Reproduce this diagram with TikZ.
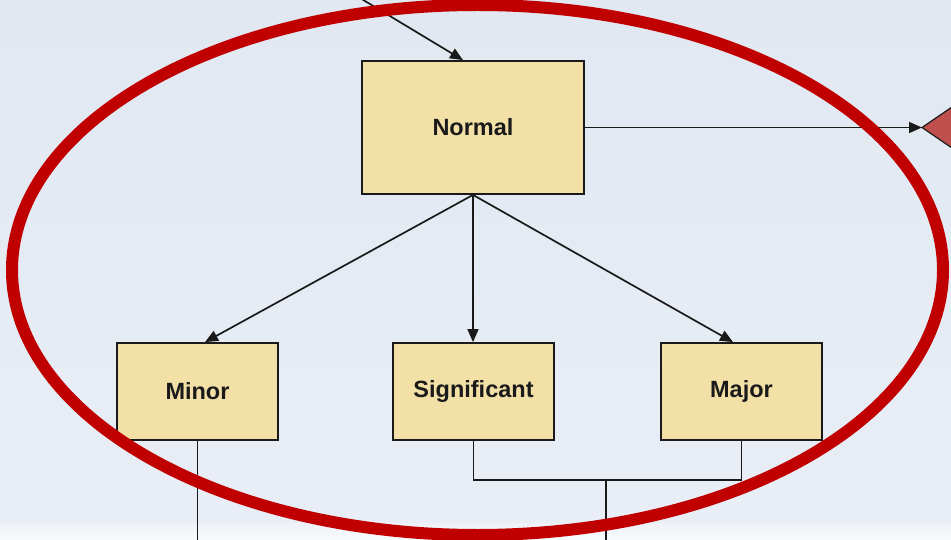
\documentclass[tikz,border=0pt]{standalone}
\usepackage{fontspec}
\setmainfont{Liberation Sans}
\usetikzlibrary{arrows.meta,positioning}
\definecolor{bgtop}{HTML}{E1E8F1}
\definecolor{bgbot}{HTML}{E9EEF6}
\definecolor{stripA}{HTML}{EEF2F8}
\definecolor{stripB}{HTML}{F8FAFC}
\definecolor{boxfill}{HTML}{F3E0A7}
\definecolor{ringred}{HTML}{C00000}
\definecolor{diamondred}{HTML}{C0504D}
\definecolor{inkgrey}{HTML}{1A1A1A}
\tikzset{
  state/.style={draw=inkgrey, line width=1.8pt, fill=boxfill, rectangle,
    inner sep=0pt, font=\fontsize{23.5}{27}\selectfont\bfseries, text=inkgrey},
  link/.style={draw=inkgrey, line width=1.7pt},
  flow/.style={link, -{Triangle[length=13pt,width=11pt]}},
}
\begin{document}
\begin{tikzpicture}[x=1pt,y=-1pt]
  \useasboundingbox (0,0) rectangle (951,540);
  \clip (0,0) rectangle (951,540);
  % backdrop
  \shade[top color=bgtop, bottom color=bgbot] (0,0) rectangle (951,523);
  \shade[top color=stripA, bottom color=stripB] (0,523) rectangle (951,540);

  % state boxes
  \node[state, minimum width=222pt, minimum height=133pt] (normal) at (473,127.5) {Normal};
  \node[state, minimum width=161pt, minimum height=97pt] (minor) at (197.5,391.5) {Minor};
  \node[state, minimum width=161pt, minimum height=97pt] (significant) at (473.5,391.5) {Significant};
  \node[state, minimum width=161pt, minimum height=97pt] (major) at (741.5,391.5) {Major};

  % decision diamond running off the right edge
  \coordinate (dmdtip) at (922,127.5);
  \fill[diamondred, draw=inkgrey, line width=1.2pt]
    (dmdtip) -- ++(60,-41) -- ++(60,41) -- ++(-60,41) -- cycle;

  % free ends of connectors
  \coordinate (feedin) at (360,-2);
  \coordinate (minorout) at (197.5,545);
  \coordinate (mergeout) at (606,545);
  \coordinate (merge) at (606,480);

  % connectors
  \draw[flow] (feedin) -- (normal.north -| 463,0);
  \draw[flow] (normal.east) -- (dmdtip);
  \draw[flow] (normal.south) -- (minor.north -| 205,0);
  \draw[flow] (normal.south) -- (significant.north -| 473,0);
  \draw[flow] (normal.south) -- (major.north -| 733,0);
  \draw[link] (minor.south) -- (minorout);
  \draw[link] (significant.south) |- (merge) -| (major.south);
  \draw[link] (merge) -- (mergeout);

  % highlight ring
  \draw[ringred, line width=12pt] (477.5,270) ellipse [x radius=465.5, y radius=265];
\end{tikzpicture}
\end{document}
